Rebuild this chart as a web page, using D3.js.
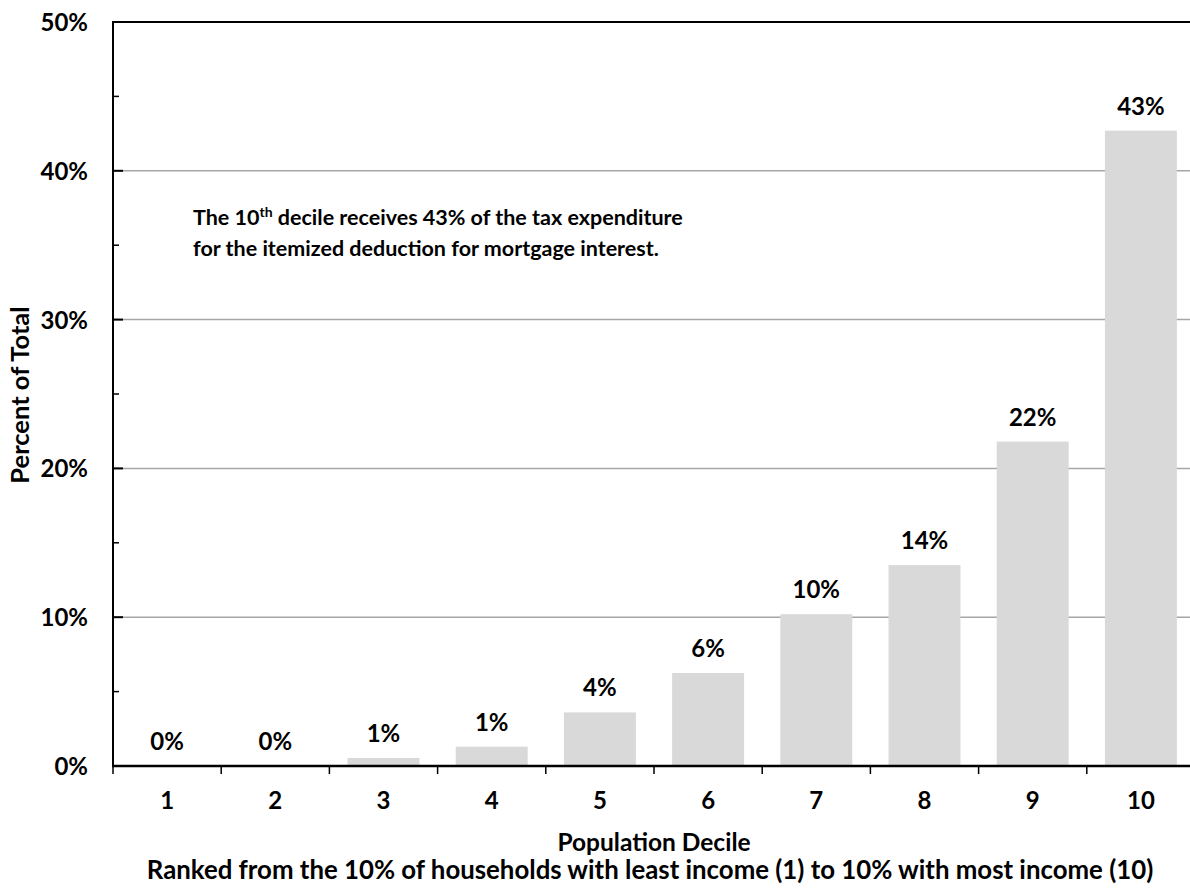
<!DOCTYPE html>
<html>
<head>
<meta charset="utf-8">
<script src="https://cdn.jsdelivr.net/npm/d3@7"></script>
<style>
  body { margin: 0; background: #fff; }
  text { font-family: Lato, "Open Sans", sans-serif; font-weight: bold; fill: #000; }
</style>
</head>
<body>
<div id="chart"></div>
<script>
/* Share of mortgage interest deduction by population decile */

const deciles = ["1", "2", "3", "4", "5", "6", "7", "8", "9", "10"];
const shares = [0, 0, 0.54, 1.3, 3.6, 6.25, 10.2, 13.5, 21.8, 42.7];
const yTicks = [0, 10, 20, 30, 40, 50];
const yMinor = [5, 15, 25, 35, 45];

const width = 1190, height = 888;
const margin = { top: 22, right: -5, bottom: 122, left: 113 };

let svg = d3.select("#chart")
  .append("svg")
  .attr("width", width)
  .attr("height", height);

const x = d3.scaleBand()
  .domain(deciles)
  .range([margin.left, width - margin.right])
  .paddingInner(0.335)
  .paddingOuter(0.1675);

const xTick = d3.scalePoint()
  .domain(d3.range(11))
  .range([margin.left, width - margin.right]);

const y = d3.scaleLinear()
  .domain([0, 50])
  .range([height - margin.bottom, margin.top]);

// gridlines
svg.append("g")
  .selectAll("line")
  .data(yTicks.filter(d => d > 0 && d < 50))
  .join("line")
  .attr("x1", margin.left)
  .attr("x2", width)
  .attr("y1", d => y(d))
  .attr("y2", d => y(d))
  .attr("stroke", "#a6a6a6")
  .attr("stroke-width", 1.5);

// top border
svg.append("line")
  .attr("x1", margin.left).attr("x2", width)
  .attr("y1", y(50)).attr("y2", y(50))
  .attr("stroke", "#000").attr("stroke-width", 2);

// bars
svg.append("g")
  .selectAll("rect")
  .data(deciles)
  .join("rect")
  .attr("x", d => x(d))
  .attr("width", x.bandwidth())
  .attr("y", (d, i) => y(shares[i]))
  .attr("height", (d, i) => y(0) - y(shares[i]))
  .attr("fill", "#d9d9d9");

// bar labels
svg.append("g")
  .selectAll("text")
  .data(deciles)
  .join("text")
  .attr("x", d => x(d) + x.bandwidth() / 2)
  .attr("y", (d, i) => y(shares[i]) - 16)
  .attr("text-anchor", "middle")
  .style("font-size", "24px")
  .text((d, i) => Math.round(shares[i]) + "%");

// y axis
const yAxis = svg.append("g");
yAxis.append("line")
  .attr("x1", margin.left).attr("x2", margin.left)
  .attr("y1", y(50) - 1).attr("y2", y(0) + 1)
  .attr("stroke", "#000").attr("stroke-width", 2);
yAxis.selectAll(".major")
  .data(yTicks)
  .join("line")
  .attr("x1", margin.left).attr("x2", margin.left + 10)
  .attr("y1", d => y(d)).attr("y2", d => y(d))
  .attr("stroke", "#000").attr("stroke-width", 2);
yAxis.selectAll(".minor")
  .data(yMinor)
  .join("line")
  .attr("x1", margin.left).attr("x2", margin.left + 6)
  .attr("y1", d => y(d)).attr("y2", d => y(d))
  .attr("stroke", "#000").attr("stroke-width", 1.5);
yAxis.selectAll("text")
  .data(yTicks)
  .join("text")
  .attr("x", 88)
  .attr("y", d => y(d) + 9)
  .attr("text-anchor", "end")
  .style("font-size", "24px")
  .text(d => d + "%");

// x axis
const xAxis = svg.append("g");
xAxis.append("line")
  .attr("x1", margin.left - 1).attr("x2", width)
  .attr("y1", y(0)).attr("y2", y(0))
  .attr("stroke", "#000").attr("stroke-width", 2.5);
xAxis.selectAll("line.tick")
  .data(d3.range(10))
  .join("line")
  .attr("class", "tick")
  .attr("x1", d => xTick(d)).attr("x2", d => xTick(d))
  .attr("y1", y(0)).attr("y2", y(0) + 8)
  .attr("stroke", "#000").attr("stroke-width", 1.5);
xAxis.selectAll("text")
  .data(deciles)
  .join("text")
  .attr("x", d => x(d) + x.bandwidth() / 2)
  .attr("y", 809)
  .attr("text-anchor", "middle")
  .style("font-size", "24px")
  .text(d => d);

// axis titles
svg.append("text")
  .attr("x", 654).attr("y", 851)
  .attr("text-anchor", "middle")
  .style("font-size", "24.5px")
  .text("Population Decile");

svg.append("text")
  .attr("x", 650).attr("y", 879)
  .attr("text-anchor", "middle")
  .style("font-size", "25.8px")
  .text("Ranked from the 10% of households with least income (1) to 10% with most income (10)");

svg.append("text")
  .attr("transform", "translate(29,395) rotate(-90)")
  .attr("text-anchor", "middle")
  .style("font-size", "25.5px")
  .text("Percent of Total");

// annotation
const note = svg.append("text")
  .attr("x", 193).attr("y", 225)
  .style("font-size", "21.5px");
note.append("tspan").text("The 10");
note.append("tspan").attr("dy", -8).style("font-size", "14px").text("th");
note.append("tspan").attr("dy", 8).text(" decile receives 43% of the tax expenditure");

svg.append("text")
  .attr("x", 193).attr("y", 256)
  .style("font-size", "21.5px")
  .text("for the itemized deduction for mortgage interest.");
</script>
</body>
</html>
